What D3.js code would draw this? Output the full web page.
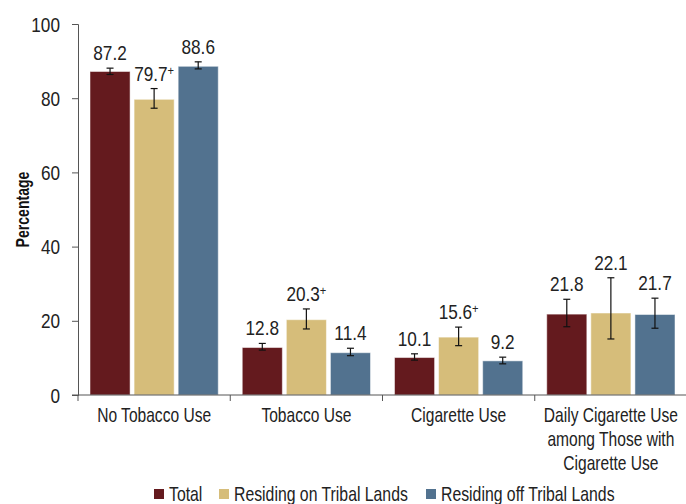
<!DOCTYPE html>
<html>
<head>
<meta charset="utf-8">
<script src="https://cdn.jsdelivr.net/npm/d3@7"></script>
<style>
  body { margin: 0; background: #fff; }
  text { font-family: "Liberation Sans", Arial, sans-serif; fill: #222; }
</style>
</head>
<body>
<div id="chart"></div>
<script>
// data
const categories = ["No Tobacco Use", "Tobacco Use", "Cigarette Use", "Daily Cigarette Use among Those with Cigarette Use"];
const categoryLines = [["No Tobacco Use"], ["Tobacco Use"], ["Cigarette Use"], ["Daily Cigarette Use", "among Those with", "Cigarette Use"]];
const seriesNames = ["Total", "Residing on Tribal Lands", "Residing off Tribal Lands"];
const seriesColors = ["#641a1e", "#d6bd7a", "#52728f"];

const totalVals = [87.2, 12.8, 10.1, 21.8];
const tribalVals = [79.7, 20.3, 15.6, 22.1];
const offVals = [88.6, 11.4, 9.2, 21.7];

const totalLow = [86.4, 12.1, 9.4, 18.4];
const totalHigh = [88.1, 13.9, 11.1, 25.8];
const tribalLow = [77.3, 17.8, 13.3, 15.1];
const tribalHigh = [82.6, 23.2, 18.3, 31.6];
const offLow = [87.9, 10.6, 8.4, 18.0];
const offHigh = [89.8, 12.6, 10.2, 26.1];

// "+" marks on tribal series
const tribalFlag = [true, true, true, false];

const yTicks = [0, 20, 40, 60, 80, 100];

const seriesVals = [totalVals, tribalVals, offVals];
const seriesLow = [totalLow, tribalLow, offLow];
const seriesHigh = [totalHigh, tribalHigh, offHigh];
const noFlag = [false, false, false, false];
const seriesFlag = [noFlag, tribalFlag, noFlag];

const W = 686, H = 504;
const margin = { left: 78, right: 0, top: 24, bottom: 109 };

// condensed look: squeeze Liberation Sans horizontally
const TEXT_SX = 0.76;
const NUM_SX = 0.86;

const svg = d3.select('#chart')
  .append('svg')
  .attr('width', W)
  .attr('height', H);

const x = d3.scaleBand()
  .domain(categories)
  .range([margin.left, 687])
  .paddingInner(0)
  .paddingOuter(0);

const xSub = d3.scaleBand()
  .domain(seriesNames)
  .range([12, x.bandwidth() - 12])
  .paddingInner(4 / 44)
  .paddingOuter(0);

const y = d3.scaleLinear()
  .domain([0, 100])
  .range([H - margin.bottom, margin.top]);

// bars
const rows = [];
seriesNames.forEach((s, si) => {
  categories.forEach((c, ci) => {
    rows.push({
      s, c, si,
      v: seriesVals[si][ci],
      lo: seriesLow[si][ci],
      hi: seriesHigh[si][ci],
      flag: seriesFlag[si][ci]
    });
  });
});

const barMid = d => x(d.c) + xSub(d.s) + xSub.bandwidth() / 2;

svg.selectAll('rect.bar')
  .data(rows)
  .enter()
  .append('rect')
  .attr('class', 'bar')
  .attr('x', d => x(d.c) + xSub(d.s))
  .attr('y', d => y(d.v))
  .attr('width', xSub.bandwidth())
  .attr('height', d => y(0) - y(d.v))
  .attr('fill', d => seriesColors[d.si])
  .attr('stroke', 'rgba(255,255,255,0.5)')
  .attr('stroke-width', 1);

// error bars
const eb = svg.append('g').attr('stroke', '#111').attr('stroke-width', 1.2);
rows.forEach(d => {
  const cx = barMid(d);
  eb.append('line').attr('x1', cx).attr('x2', cx).attr('y1', y(d.hi)).attr('y2', y(d.lo));
  eb.append('line').attr('x1', cx - 3.5).attr('x2', cx + 3.5).attr('y1', y(d.hi)).attr('y2', y(d.hi));
  eb.append('line').attr('x1', cx - 3.5).attr('x2', cx + 3.5).attr('y1', y(d.lo)).attr('y2', y(d.lo));
});

// value labels
const lbl = svg.selectAll('text.val')
  .data(rows)
  .enter()
  .append('text')
  .attr('class', 'val')
  .attr('transform', d => `translate(${barMid(d)}, ${y(d.hi) - 8}) scale(${NUM_SX}, 1)`)
  .attr('text-anchor', 'middle')
  .style('font-size', '20px')
  .text(d => d3.format('.1f')(d.v));
lbl.filter(d => d.flag)
  .append('tspan')
  .attr('dy', -6)
  .style('font-size', '13px')
  .text('+');

// y axis
const yAxis = svg.append('g')
  .attr('transform', `translate(${margin.left}, 0)`)
  .call(d3.axisLeft(y).tickValues(yTicks).tickSize(6).tickPadding(12));
yAxis.select('.domain').attr('stroke', '#555');
yAxis.selectAll('.tick line').attr('stroke', '#555');
yAxis.selectAll('.tick text')
  .attr('x', null)
  .attr('dy', null)
  .attr('transform', `translate(-18, 7) scale(${NUM_SX}, 1)`)
  .style('font-size', '20px')
  .attr('fill', '#222');

svg.append('text')
  .attr('transform', `translate(29, ${(y(0) + y(100)) / 2}) rotate(-90) scale(0.74, 1)`)
  .attr('text-anchor', 'middle')
  .style('font-size', '19px')
  .style('font-weight', 'bold')
  .style('fill', '#111')
  .text('Percentage');

// x axis
const xAxis = svg.append('g');
xAxis.append('line')
  .attr('x1', margin.left - 6).attr('x2', W)
  .attr('y1', y(0)).attr('y2', y(0))
  .attr('stroke', '#555');
categories.forEach(c => {
  xAxis.append('line')
    .attr('x1', x(c)).attr('x2', x(c))
    .attr('y1', y(0)).attr('y2', y(0) + 6)
    .attr('stroke', '#555');
});
categories.forEach((c, ci) => {
  const t = xAxis.append('text')
    .attr('transform', `translate(${x(c) + x.bandwidth() / 2}, ${y(0) + 27}) scale(${TEXT_SX}, 1)`)
    .attr('text-anchor', 'middle')
    .style('font-size', '20.5px');
  categoryLines[ci].forEach((line, li) => {
    t.append('tspan')
      .attr('x', 0)
      .attr('dy', li === 0 ? 0 : 24)
      .text(line);
  });
});

// legend
const legendX = [154, 219, 426];
const lg = svg.append('g');
seriesNames.forEach((s, si) => {
  lg.append('rect')
    .attr('x', legendX[si])
    .attr('y', 489)
    .attr('width', 10)
    .attr('height', 10)
    .attr('fill', seriesColors[si]);
  lg.append('text')
    .attr('transform', `translate(${legendX[si] + 15}, 501) scale(0.79, 1)`)
    .style('font-size', '20px')
    .text(s);
});
</script>
</body>
</html>
